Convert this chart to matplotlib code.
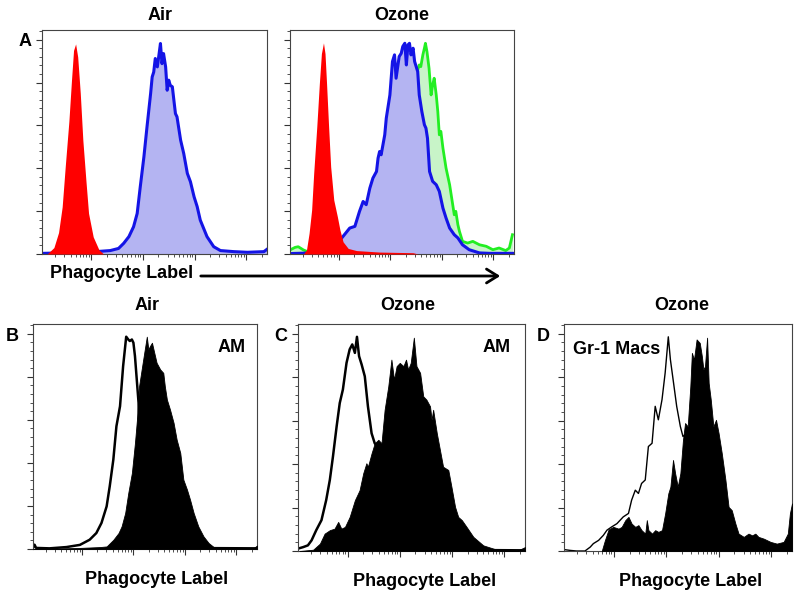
import numpy as np
import matplotlib
matplotlib.use("Agg")
import matplotlib.pyplot as plt
from matplotlib.patches import FancyArrowPatch
from matplotlib.ticker import MultipleLocator, AutoMinorLocator, LogLocator, NullFormatter

plt.rcParams['font.family'] = ['Liberation Sans', 'DejaVu Sans']
plt.rcParams['font.weight'] = 'bold'

# x values are log10 of phagocyte label intensity, y values are % of max
# --- panel A, Air ---
air_red_x = [0.15, 0.28, 0.37, 0.44, 0.50, 0.57, 0.62, 0.66, 0.70, 0.74, 0.79, 0.84, 0.90, 0.95, 1.04, 1.15, 1.24]
air_red_y = [0, 3, 10, 22, 41, 62, 81, 95, 98, 92, 75, 53, 34, 19, 8, 2, 0]

air_blue_x = [0.07, 0.53, 0.92, 1.37, 1.53, 1.63, 1.73, 1.82, 1.89, 1.95, 2.02, 2.08, 2.15, 2.18, 2.21,
              2.24, 2.28, 2.31, 2.34, 2.37, 2.40, 2.44, 2.47, 2.50, 2.53, 2.57, 2.60, 2.63, 2.66, 2.73,
              2.79, 2.86, 2.92, 2.99, 3.05, 3.11, 3.24, 3.37, 3.50, 3.76, 4.02, 4.34, 4.40]
air_blue_y = [0.3, 0.6, 0.8, 1.6, 2.6, 5.0, 8.1, 12.7, 18.9, 31.4, 45.3, 59.3, 74.9, 82.6, 84.9,
              91.2, 87.3, 92.7, 98.2, 88.8, 93.5, 87.3, 76.4, 81.1, 78.7, 78.0, 71.7, 65.5, 64.0, 53.1,
              46.9, 37.6, 33.7, 26.7, 22.1, 15.8, 8.1, 3.4, 1.6, 1.1, 0.8, 1.1, 2.2]

# --- panel A, Ozone ---
oz_red_x = [0.31, 0.37, 0.42, 0.47, 0.51, 0.57, 0.62, 0.66, 0.70, 0.73, 0.76, 0.80, 0.84, 0.90, 0.97,
            1.02, 1.08, 1.18, 1.34, 1.79, 2.44, 2.53]
oz_red_y = [0, 1.9, 9.6, 20.5, 37.6, 59.3, 79.5, 93.5, 98.5, 93.5, 79.5, 59.3, 40.7, 25.2, 17.4,
            11.2, 5.7, 2.6, 1.6, 0.9, 0.6, 0]

oz_blue_x = [0.05, 0.63, 0.89, 1.08, 1.21, 1.31, 1.40, 1.47, 1.53, 1.60, 1.66, 1.73, 1.76, 1.79, 1.82,
             1.89, 1.92, 1.99, 2.04, 2.08, 2.11, 2.17, 2.21, 2.24, 2.28, 2.31, 2.34, 2.37, 2.40, 2.44,
             2.47, 2.53, 2.56, 2.61, 2.66, 2.69, 2.72, 2.76, 2.82, 2.89, 2.95, 3.02, 3.08, 3.15, 3.24,
             3.31, 3.40, 3.53, 3.73, 3.92, 4.24, 4.40]
oz_blue_y = [0.2, 0.6, 2.6, 8.2, 12.1, 12.9, 19.9, 24.5, 23.0, 30.7, 35.4, 38.5, 44.7, 47.8, 46.3,
             55.6, 63.4, 74.2, 89.8, 92.9, 82.0, 92.1, 93.6, 96.8, 98.3, 88.2, 97.5, 98.3, 92.9, 96.0,
             89.8, 85.1, 74.2, 66.5, 60.3, 58.7, 54.0, 38.5, 33.9, 32.3, 29.2, 21.4, 16.8, 12.1, 9.0,
             7.5, 4.3, 2.0, 0.5, 0.3, 0.3, 0.3]

oz_green_x = [0.05, 0.15, 0.21, 0.31, 0.44, 0.80, 1.20, 1.50, 1.80, 2.00, 2.20, 2.40, 2.53, 2.56, 2.59,
              2.63, 2.66, 2.68, 2.71, 2.75, 2.79, 2.82, 2.85, 2.89, 2.92, 2.95, 2.98, 3.02, 3.08, 3.15,
              3.21, 3.24, 3.27, 3.31, 3.34, 3.40, 3.50, 3.60, 3.73, 3.86, 3.99, 4.11, 4.24, 4.31, 4.37]
oz_green_y = [1.9, 3.1, 3.4, 1.9, 0.6, 0.3, 2.0, 8.0, 25.0, 45.0, 65.0, 80.0, 85.9, 88.2, 87.4,
              92.9, 96.0, 98.3, 94.4, 86.7, 74.2, 78.9, 82.0, 74.2, 66.5, 55.6, 57.2, 49.4, 40.1, 32.3,
              23.0, 18.3, 19.9, 13.7, 10.6, 5.9, 5.1, 5.9, 4.3, 3.6, 2.0, 2.8, 1.6, 2.8, 9.0]

# --- panel B, Air AM ---
b_open_x = [0.05, 0.08, 0.11, 0.37, 0.70, 0.96, 1.15, 1.28, 1.38, 1.48, 1.54, 1.61, 1.67, 1.74, 1.80,
            1.86, 1.90, 1.93, 1.97, 2.00, 2.03, 2.06, 2.10, 2.11, 2.16, 2.23, 2.32, 2.65, 4.40]
b_open_y = [0.5, 2.0, 0.5, 0.3, 0.9, 1.9, 4.3, 7.4, 12.1, 19.8, 29.1, 41.5, 57.0, 66.3, 84.9,
            98.6, 97.3, 96.6, 97.3, 95.8, 89.6, 80.3, 67.9, 53.9, 29.1, 10.5, 2.0, 0.5, 0.3]

b_fill_x = [0.05, 0.96, 1.35, 1.48, 1.61, 1.71, 1.77, 1.84, 1.90, 1.97, 2.03, 2.08, 2.11, 2.16, 2.21,
            2.26, 2.29, 2.32, 2.36, 2.39, 2.42, 2.45, 2.52, 2.58, 2.61, 2.65, 2.71, 2.78, 2.84, 2.91,
            2.97, 3.04, 3.10, 3.17, 3.26, 3.36, 3.46, 3.56, 3.95, 4.34, 4.40]
b_fill_y = [0, 0.5, 0.9, 1.2, 4.3, 7.4, 10.5, 16.7, 26.0, 35.3, 49.3, 63.2, 75.6, 83.4, 91.1,
            98.6, 92.7, 94.2, 95.8, 92.7, 89.6, 86.5, 83.4, 81.8, 75.6, 69.4, 64.8, 58.6, 50.8, 44.6,
            32.2, 27.6, 22.9, 16.7, 10.5, 5.9, 2.8, 0.9, 0.5, 0.5, 1.6]

# --- panel C, Ozone AM ---
c_open_x = [0.05, 0.15, 0.24, 0.31, 0.40, 0.50, 0.59, 0.66, 0.72, 0.79, 0.85, 0.91, 0.98, 1.04, 1.09,
            1.14, 1.18, 1.22, 1.27, 1.33, 1.39, 1.46, 1.52, 1.57, 1.68, 1.81, 1.94, 2.07, 2.39, 4.40]
c_open_y = [1.1, 1.8, 2.6, 4.9, 9.6, 14.2, 23.4, 32.7, 43.5, 57.3, 68.1, 74.3, 86.6, 92.8, 95.1,
            91.2, 98.6, 89.7, 85.8, 80.4, 66.6, 54.2, 49.6, 48.1, 35.8, 23.4, 11.1, 3.4, 0.6, 0.3]

c_fill_x = [0.08, 0.34, 0.47, 0.56, 0.66, 0.75, 0.82, 0.88, 0.95, 1.04, 1.14, 1.23, 1.30, 1.36, 1.39,
            1.46, 1.52, 1.59, 1.65, 1.71, 1.78, 1.84, 1.89, 1.94, 2.00, 2.07, 2.12, 2.16, 2.21, 2.27,
            2.32, 2.39, 2.45, 2.51, 2.58, 2.61, 2.64, 2.71, 2.77, 2.83, 2.93, 2.99, 3.06, 3.12, 3.19,
            3.28, 3.41, 3.60, 3.86, 4.24, 4.40]
c_fill_y = [0, 0.6, 3.4, 8.0, 9.6, 10.3, 13.4, 10.3, 11.1, 15.7, 23.4, 28.0, 35.8, 40.4, 38.8,
            45.0, 49.6, 51.2, 49.6, 65.0, 75.8, 88.1, 78.9, 85.1, 86.6, 85.1, 88.1, 83.5, 86.6, 98.2,
            85.1, 82.0, 71.2, 69.7, 66.6, 60.4, 65.0, 54.2, 46.5, 38.8, 37.3, 29.6, 20.3, 15.7, 14.2,
            11.1, 6.5, 2.6, 0.6, 0, 1.8]

# --- panel D, Ozone Gr-1 Macs ---
d_open_x = [0.07, 0.16, 0.29, 0.45, 0.55, 0.61, 0.71, 0.80, 0.87, 0.96, 1.06, 1.18, 1.28, 1.34, 1.41,
            1.47, 1.53, 1.60, 1.66, 1.73, 1.79, 1.85, 1.92, 1.98, 2.04, 2.08, 2.14, 2.20, 2.27, 2.32,
            2.39, 2.52, 2.65, 2.78, 2.90, 3.09, 3.41, 4.40]
d_open_y = [0.6, 0.3, 0, 0, 1.8, 3.4, 4.9, 7.2, 9.6, 11.1, 12.6, 15.7, 17.3, 23.4, 28.0,
            26.5, 31.1, 32.7, 48.1, 49.6, 66.6, 60.4, 69.7, 82.0, 98.6, 88.1, 77.4, 66.6, 57.3, 52.7,
            54.2, 46.5, 31.1, 15.7, 8.0, 3.4, 1.1, 0.3]

d_fill_x = [0.77, 0.83, 0.90, 0.99, 1.09, 1.15, 1.22, 1.28, 1.34, 1.41, 1.47, 1.53, 1.60, 1.63, 1.66,
            1.73, 1.79, 1.85, 1.92, 1.98, 2.04, 2.08, 2.13, 2.17, 2.22, 2.27, 2.32, 2.36, 2.41, 2.46,
            2.49, 2.53, 2.58, 2.64, 2.68, 2.71, 2.74, 2.78, 2.81, 2.85, 2.90, 2.95, 3.00, 3.06, 3.13,
            3.19, 3.25, 3.32, 3.38, 3.48, 3.57, 3.64, 3.70, 3.76, 3.86, 3.99, 4.11, 4.24, 4.32, 4.36, 4.40]
d_fill_y = [0, 4.9, 9.9, 11.1, 10.3, 11.1, 14.2, 15.7, 12.6, 11.1, 11.9, 9.6, 8.0, 14.2, 9.6,
            8.0, 9.6, 8.8, 9.6, 17.3, 26.5, 29.6, 41.9, 35.8, 29.6, 35.8, 51.2, 58.9, 57.3, 75.8,
            91.2, 88.1, 97.4, 95.8, 89.7, 83.5, 85.1, 98.2, 77.4, 69.7, 57.3, 60.4, 54.2, 45.0, 32.7,
            20.3, 18.8, 12.6, 8.0, 6.5, 8.0, 7.2, 8.0, 6.5, 5.7, 4.2, 3.4, 4.2, 8.0, 17.3, 21.9]

RED = '#ff0000'
BLUE = '#1414e6'
LAVENDER = '#b4b4f2'
GREEN = '#22ee22'
LIGHTGREEN = '#c8f4c8'

W, H = 800, 600
fig = plt.figure(figsize=(8, 6), dpi=100)


def px_axes(left, top, right, bottom):
    return fig.add_axes([left / W, 1 - bottom / H, (right - left) / W, (bottom - top) / H])


def style(ax):
    ax.set_xscale('log')
    ax.set_xlim(10 ** 0.05, 10 ** 4.4)
    ax.set_ylim(0, 104.5)
    ax.yaxis.set_major_locator(MultipleLocator(20))
    ax.yaxis.set_minor_locator(AutoMinorLocator(5))
    ax.xaxis.set_major_locator(LogLocator(base=10))
    ax.xaxis.set_minor_locator(LogLocator(base=10, subs=np.arange(2, 10)))
    ax.xaxis.set_major_formatter(NullFormatter())
    ax.xaxis.set_minor_formatter(NullFormatter())
    ax.yaxis.set_major_formatter(NullFormatter())
    ax.tick_params(which='major', direction='out', length=4, width=0.8, color='#333333',
                   top=False, right=False)
    ax.tick_params(which='minor', direction='out', length=2, width=0.6, color='#333333',
                   top=False, right=False)
    for s in ax.spines.values():
        s.set_linewidth(0.8)
        s.set_color('#444444')


def lx(d):
    return 10 ** np.array(d)


# Panel A - Air
ax = px_axes(42, 30, 267, 254)
style(ax)
ax.fill_between(lx(air_blue_x), air_blue_y, color=LAVENDER, lw=0, zorder=1)
ax.plot(lx(air_blue_x), air_blue_y, color=BLUE, lw=2.2, zorder=2)
ax.fill_between(lx(air_red_x), air_red_y, color=RED, lw=0, zorder=3)

# Panel A - Ozone (draw order: green, blue, red on top)
ax = px_axes(290, 30, 514, 254)
style(ax)
ax.fill_between(lx(oz_green_x), oz_green_y, color=LIGHTGREEN, lw=0, zorder=1)
ax.plot(lx(oz_green_x), oz_green_y, color=GREEN, lw=2.0, zorder=1.5)
ax.fill_between(lx(oz_blue_x), oz_blue_y, color=LAVENDER, lw=0, zorder=2)
ax.plot(lx(oz_blue_x), oz_blue_y, color=BLUE, lw=2.2, zorder=2.5)
ax.fill_between(lx(oz_red_x), oz_red_y, color=RED, lw=0, zorder=3)

# Panel B
ax = px_axes(33, 324, 257, 549)
style(ax)
ax.plot(lx(b_open_x), b_open_y, color='black', lw=1.8, zorder=2)
ax.fill_between(lx(b_fill_x), b_fill_y, color='black', lw=0.6, zorder=3)

# Panel C
ax = px_axes(298, 324, 525, 551)
style(ax)
ax.plot(lx(c_open_x), c_open_y, color='black', lw=1.8, zorder=2)
ax.fill_between(lx(c_fill_x), c_fill_y, color='black', lw=0.6, zorder=3)

# Panel D
ax = px_axes(564, 324, 792, 551)
style(ax)
ax.plot(lx(d_open_x), d_open_y, color='black', lw=1.0, zorder=2)
ax.fill_between(lx(d_fill_x), d_fill_y, color='black', lw=0.6, zorder=3)


def label(x, y, s, size=13, ha='center'):
    fig.text(x / W, 1 - y / H, s, fontsize=size, fontweight='bold', ha=ha, va='center')


label(160, 15, 'Air')
label(402, 15, 'Ozone')
label(25, 41, 'A')
label(50, 273, 'Phagocyte Label', ha='left')
fig.add_artist(FancyArrowPatch(
    (198 / W, 1 - 276 / H), (503 / W, 1 - 276 / H), transform=fig.transFigure,
    arrowstyle='->,head_length=8,head_width=5', lw=2.0, color='black', mutation_scale=1))

label(147, 305, 'Air')
label(408, 305, 'Ozone')
label(682, 305, 'Ozone')
label(12, 336, 'B')
label(281, 336, 'C')
label(543, 336, 'D')
label(232, 348, 'AM')
label(497, 348, 'AM')
label(617, 350, 'Gr-1 Macs')
label(157, 580, 'Phagocyte Label')
label(425, 582, 'Phagocyte Label')
label(691, 582, 'Phagocyte Label')

fig.savefig('out.png', dpi=100)
